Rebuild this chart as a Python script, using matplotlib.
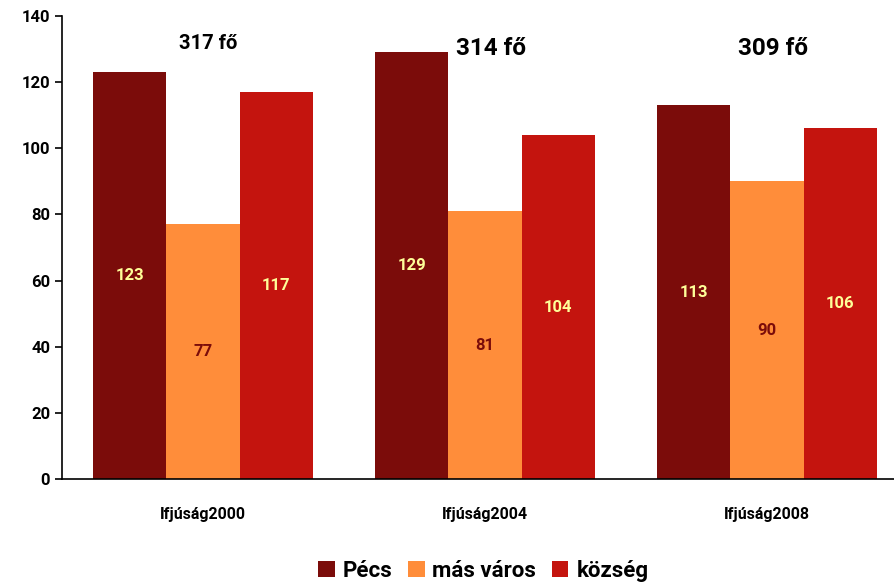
import numpy as np
import matplotlib.pyplot as plt

# adatok
kategoriak = ['Ifjúság2000', 'Ifjúság2004', 'Ifjúság2008']
pecs = [123, 129, 113]
mas_varos = [77, 81, 90]
kozseg = [117, 104, 106]
osszesen = ['317 fő', '314 fő', '309 fő']

plt.rcParams['font.family'] = ['Roboto', 'DejaVu Sans']
plt.rcParams['font.weight'] = 'bold'

fig = plt.figure(figsize=(8.95, 5.87), dpi=100)
ax = fig.add_axes([62/895, 1-479/587, 846/895, 463/587])

x = np.arange(len(kategoriak))
w = 0.259
sorozatok = [('Pécs', pecs, '#7B0C0A', '#FFFF99'),
             ('más város', mas_varos, '#FF8D3A', '#7B0C0A'),
             ('község', kozseg, '#C4140E', '#FFFF99')]

for i, (nev, vals, szin, cimkeszin) in enumerate(sorozatok):
    bars = ax.bar(x + (i - 1) * w, vals, w, color=szin, label=nev)
    ax.bar_label(bars, label_type='center', color=cimkeszin,
                 fontsize=12, fontweight='bold')

# összesen feliratok
meretek = [14.5, 17.5, 17.5]
pozy = [131.8, 130.3, 130.3]
for i, t in enumerate(osszesen):
    ax.text(x[i] + 0.02, pozy[i], t, ha='center', va='center',
            fontsize=meretek[i], fontweight='bold')

ax.set_xlim(-0.5, 2.5)
ax.set_ylim(0, 140)
ax.set_yticks(range(0, 141, 20))
ax.set_xticks(x)
ax.set_xticklabels(kategoriak, fontsize=11.5, fontweight='bold')
ax.tick_params(axis='x', length=0, pad=20)
ax.tick_params(axis='y', length=5, width=1.2, labelsize=12, direction='out')
for lbl in ax.get_yticklabels():
    lbl.set_fontweight('bold')
ax.spines['top'].set_visible(False)
ax.spines['right'].set_visible(False)
ax.spines['left'].set_linewidth(1.2)
ax.spines['bottom'].set_linewidth(1.2)

fig.legend(loc='lower center', bbox_to_anchor=(0.54, -0.025), ncol=3,
           frameon=False, fontsize=16, handlelength=0.75, handleheight=0.75,
           handletextpad=0.35, columnspacing=0.7)

fig.savefig('out.png', dpi=100)
